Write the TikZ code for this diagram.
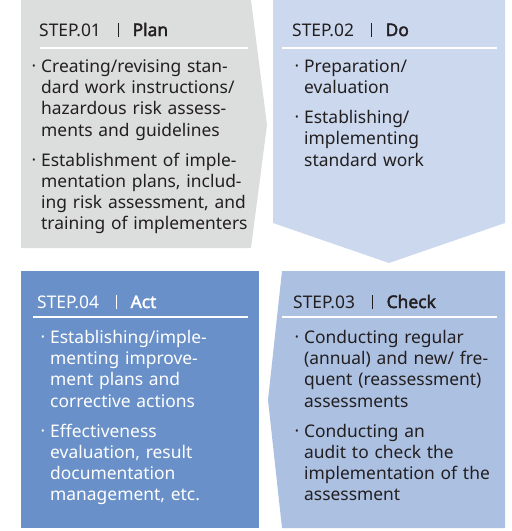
\documentclass[tikz,border=0pt]{standalone}
\usepackage{fontspec}
\setmainfont{Noto Sans}[AutoFakeBold=2.2]
\usepackage{xcolor}
\usetikzlibrary{positioning}

\definecolor{plangray}{RGB}{220,221,221}
\definecolor{doblue}{RGB}{203,216,237}
\definecolor{checkblue}{RGB}{172,192,226}
\definecolor{actblue}{RGB}{105,144,200}
\definecolor{inkdark}{RGB}{35,31,32}

\newcommand{\bodyfont}{\fontsize{17.4}{21.3}\selectfont}
\newcommand{\headfont}{\fontsize{17.4}{20}\selectfont}
\newcommand{\dotitem}[1]{\noindent\llap{\raisebox{0.14em}{\scalebox{0.55}{\textbullet}}\hspace{5.5pt}}\strut#1\par}
\newcommand{\itemgap}{\vspace{8.7pt}}
\newcommand{\stephead}[2]{STEP.#1\hspace{17pt}\rule[-1pt]{0.7pt}{14pt}\hspace{14pt}\textbf{#2}}

\begin{document}
\begin{tikzpicture}[x=1pt, y=-1pt,
  body/.style={anchor=north west, inner sep=0pt, text width=260pt, align=left, font=\bodyfont},
  head/.style={anchor=base west, inner sep=0pt, font=\headfont},
  rule/.style={white, line width=1.2pt}]
\useasboundingbox (0,0) rectangle (512,531);

% panels
\fill[plangray] (21,0) -- (251,0) -- (267,125) -- (251,248) -- (21,248) -- cycle;
\fill[doblue] (273,0) -- (505,0) -- (505,223) -- (389,263) -- (273,223) -- cycle;
\fill[checkblue] (282,271) -- (505,271) -- (505,528) -- (282,528) -- (268,400) -- cycle;
\fill[actblue] (21,271) rectangle (259,528);

% Plan
\node[head, inkdark] (planhead) at (39,36) {\stephead{01}{Plan}};
\draw[rule] (40,48) -- (248,48);
\node[body, inkdark] (plantext) at (41,57) {%
  \dotitem{Creating/revising stan-\\dard work instructions/\\hazardous risk assess-\\ments and guidelines}\itemgap
  \dotitem{Establishment of imple-\\mentation plans, includ-\\ing risk assessment, and\\training of implementers}};

% Do
\node[head, inkdark] (dohead) at (292,36) {\stephead{02}{Do}};
\draw[rule] (282,48) -- (497,48);
\node[body, inkdark] (dotext) at (304,57) {%
  \dotitem{Preparation/\\evaluation}\itemgap
  \dotitem{Establishing/\\implementing\\standard work}};

% Check
\node[head, inkdark] (checkhead) at (293,308) {\stephead{03}{Check}};
\draw[rule] (282,317) -- (497,317);
\node[body, inkdark] (checktext) at (304,328) {%
  \dotitem{Conducting regular\\(annual) and new/ fre-\\quent (reassessment)\\assessments}\itemgap
  \dotitem{Conducting an\\audit to check the\\implementation of the\\assessment}};

% Act
\node[head, white] (acthead) at (37,308) {\stephead{04}{Act}};
\draw[rule] (33,317) -- (248,317);
\node[body, white] (acttext) at (50,328) {%
  \dotitem{Establishing/imple-\\menting improve-\\ment plans and\\corrective actions}\itemgap
  \dotitem{Effectiveness\\evaluation, result\\documentation\\management, etc.}};
\end{tikzpicture}
\end{document}
